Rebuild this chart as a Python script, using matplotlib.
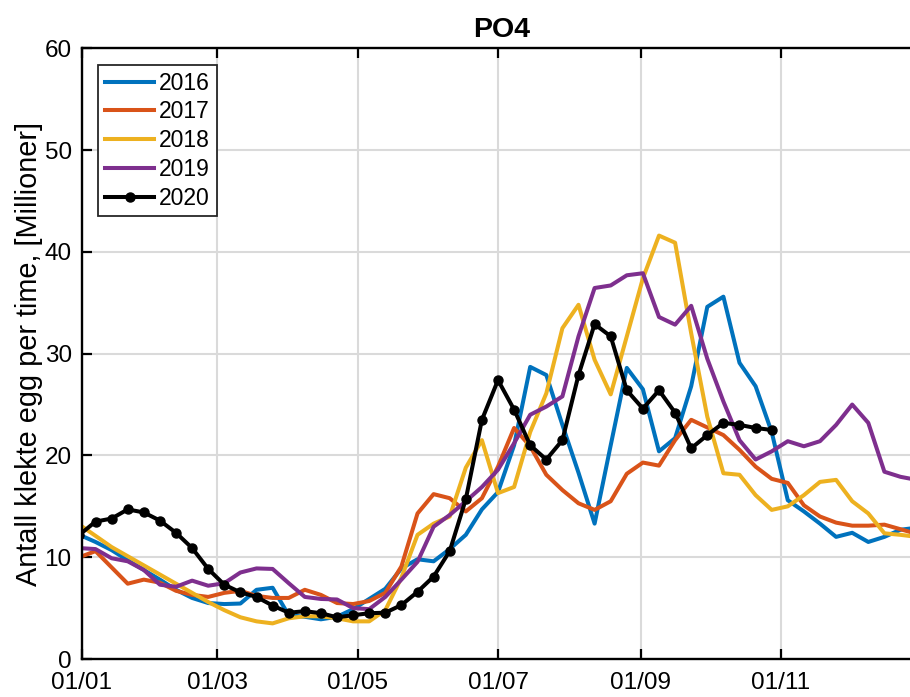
import numpy as np
import matplotlib
matplotlib.use("Agg")
import matplotlib.pyplot as plt

# Weekly values (million hatched eggs per hour), week k plotted at day-of-year 7k-1
weeks = np.arange(53)
y2016 = [12.2, 11.5, 10.7, 9.7, 8.75, 7.8, 6.8, 6.0, 5.5, 5.4, 5.45, 6.8, 7.0, 4.3, 4.15, 3.9, 4.15, 4.9,
         5.9, 6.9, 8.9, 9.8, 9.6, 10.8, 12.2, 14.7, 16.4, 21.0, 28.7, 27.9, 23.0, 18.3, 13.3, 21.0, 28.6,
         26.5, 20.4, 21.7, 26.8, 34.6, 35.6, 29.1, 26.8, 22.3, 15.6, 14.5, 13.3, 12.0, 12.4, 11.5, 12.0,
         12.7, 12.9]
y2017 = [10.0, 10.6, 9.0, 7.4, 7.8, 7.5, 6.7, 6.3, 6.1, 6.5, 6.7, 6.2, 6.0, 6.0, 6.8, 6.3, 5.5, 5.4,
         5.7, 6.5, 9.1, 14.3, 16.2, 15.8, 14.5, 15.8, 18.9, 22.7, 20.9, 18.1, 16.6, 15.3, 14.65, 15.5,
         18.2, 19.3, 19.0, 21.5, 23.5, 22.75, 22.0, 20.55, 18.9, 17.7, 17.3, 15.1, 14.0, 13.4, 13.1,
         13.1, 13.2, 12.75, 12.3]
y2018 = [13.2, 12.1, 11.0, 10.1, 9.2, 8.3, 7.4, 6.5, 5.6, 4.8, 4.1, 3.7, 3.5, 4.0, 4.2, 4.2, 4.0, 3.7,
         3.7, 4.8, 8.0, 12.2, 13.3, 14.0, 18.8, 21.5, 16.3, 16.9, 22.3, 26.1, 32.5, 34.8, 29.4, 26.0,
         31.7, 37.4, 41.6, 40.9, 32.0, 23.8, 18.25, 18.1, 16.1, 14.65, 15.0, 16.1, 17.4, 17.6, 15.5,
         14.3, 12.35, 12.2, 12.0]
y2019 = [10.9, 10.8, 9.9, 9.6, 8.75, 7.3, 7.1, 7.7, 7.2, 7.45, 8.5, 8.9, 8.85, 7.45, 6.1, 5.9, 5.85,
         5.0, 4.9, 6.1, 7.8, 9.55, 13.0, 14.15, 15.5, 16.9, 18.6, 21.2, 24.0, 24.8, 25.8, 31.7, 36.45,
         36.7, 37.7, 37.9, 33.6, 32.85, 34.7, 29.5, 25.3, 21.5, 19.6, 20.4, 21.4, 20.9, 21.4, 23.0,
         25.0, 23.2, 18.4, 17.9, 17.6]
y2020 = [12.2, 13.5, 13.8, 14.7, 14.4, 13.6, 12.4, 10.9, 8.85, 7.3, 6.55, 6.1, 5.25, 4.55, 4.7, 4.5,
         4.1, 4.3, 4.5, 4.55, 5.3, 6.6, 8.1, 10.6, 15.7, 23.5, 27.4, 24.5, 21.0, 19.6, 21.5, 27.9, 32.9,
         31.7, 26.4, 24.6, 26.4, 24.2, 20.7, 22.0, 23.2, 23.0, 22.7, 22.5]

series_labels = ["2016", "2017", "2018", "2019", "2020"]
series_colors = ["#0072BD", "#D95319", "#EDB120", "#7E2F8E", "#000000"]
xtick_days = [0, 59, 120, 181, 243, 304]
xtick_labels = ["01/01", "01/03", "01/05", "01/07", "01/09", "01/11"]
yticks = [0, 10, 20, 30, 40, 50, 60]

plt.rcParams['font.family'] = ['Liberation Sans', 'DejaVu Sans']

fig = plt.figure(figsize=(9.10, 6.97), dpi=100)
ax = fig.add_axes([0.0898, 0.0545, 0.9225, 0.8762])

def days(n):
    return np.arange(n) * 7 - 1

all_y = [y2016, y2017, y2018, y2019]
for yv, lab, col in zip(all_y, series_labels[:4], series_colors[:4]):
    ax.plot(days(len(yv)), yv, color=col, lw=2.9, label=lab)
ax.plot(days(len(y2020)), y2020, color='black', lw=2.9, marker='o', ms=6.5,
        label=series_labels[4])

ax.set_xlim(0, 365)
ax.set_ylim(0, 60)
ax.set_xticks(xtick_days)
ax.set_xticklabels(xtick_labels)
ax.set_yticks(yticks)
ax.grid(True, color='#dadada', lw=1.5)
ax.set_axisbelow(True)
ax.tick_params(direction='in', length=7, width=1.6, labelsize=17.5, top=True, right=True,
               colors='black')
ax.tick_params(axis='x', pad=9.4)
ax.tick_params(axis='y', pad=7.2)
for s in ax.spines.values():
    s.set_linewidth(1.7)
ax.set_title("PO4", fontsize=20.5, fontweight='bold', pad=7.9)
ax.set_ylabel("Antall klekte egg per time, [Millioner]", fontsize=20.8, labelpad=1)

leg = ax.legend(loc='upper left', bbox_to_anchor=(0.0198, 0.973), fontsize=16.5,
                frameon=True, fancybox=False, edgecolor='#262626', framealpha=1,
                handlelength=2.14, handletextpad=0.2, labelspacing=0.25,
                borderpad=0.3, borderaxespad=0)
leg.get_frame().set_linewidth(1.3)

fig.savefig("out.png", dpi=100)
